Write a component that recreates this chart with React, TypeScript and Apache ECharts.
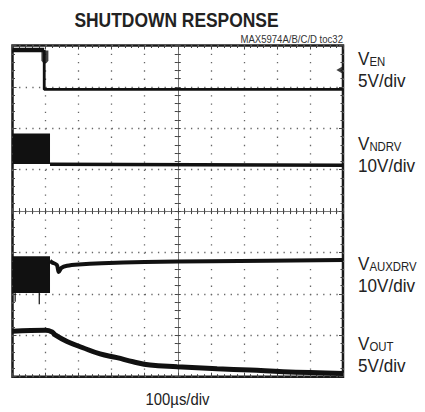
import { useEffect, useRef } from "react";
import * as echarts from "echarts";

const titleText = "SHUTDOWN RESPONSE";
const partNote = "MAX5974A/B/C/D toc32";
const timeBase = "100µs/div";
const channelMain = ["V", "V", "V", "V"];
const channelSub = ["EN", "NDRV", "AUXDRV", "OUT"];
const channelScale = ["5V/div", "10V/div", "10V/div", "5V/div"];

// x in divisions (-5..5, 100µs/div), y in divisions (-4..4)
const venHigh = [[-5, 3.89], [-4.04, 3.89]];
const venTrace = [[-4.04, 3.89], [-4.04, 2.94], [5, 2.94]];
const ndrvBurstX = [-5, -3.865];
const ndrvBurstHigh = 1.855;
const ndrvBurstLow = 1.14;
const ndrvTrace = [[-3.865, 1.13], [5, 1.11]];
const auxBurstX = [-5, -3.865];
const auxBurstHigh = -1.11;
const auxBurstLow = -1.98;
const auxSpikes = [[-4.92, -1.95, -2.19], [-4.19, -1.95, -2.25]];
const auxTrace = [
  [-3.865, -1.2], [-3.8, -1.24], [-3.66, -1.3], [-3.6, -1.47], [-3.52, -1.37],
  [-3.35, -1.32], [-3.0, -1.29], [-2.3, -1.26], [-1, -1.23], [1, -1.21], [5, -1.18],
];
const voutTrace = [
  [-5, -2.9], [-4.0, -2.88], [-3.8, -2.92], [-3.71, -2.99], [-3.35, -3.15],
  [-2.87, -3.3], [-2.35, -3.45], [-1.84, -3.54], [-1.35, -3.64], [-0.84, -3.72],
  [-0.02, -3.76], [1.19, -3.81], [2.19, -3.84], [3.19, -3.88], [5, -3.92],
];
const triggerPos = [[-4.02, 3.72]];
const triggerLevel = [[4.89, 3.41]];

const FONT = "'Liberation Sans', Arial, sans-serif";
const labelBaselines = [65, 150, 270, 350];
const scaleBaselines = [86.7, 171.7, 291.7, 371.7];

const traceColor = "#111";

function makeXAxis(kind: string) {
  const base: any = {
    type: "value", min: -5, max: 5, interval: 1,
    axisLabel: { show: false },
    splitLine: { show: false },
  };
  if (kind === "grid") {
    return {
      ...base, position: "bottom",
      axisLine: { show: true, onZero: true, lineStyle: { color: "#777", width: 1 } },
      axisTick: { show: true, inside: true, length: 3, lineStyle: { color: "#444" } },
      minorTick: { show: true, splitNumber: 5, length: 3, lineStyle: { color: "#444" } },
      splitLine: { show: true, lineStyle: { color: "#666", width: 1.3, type: [1.3, 6.98] } },
    };
  }
  if (kind === "centerOut") {
    return {
      ...base, position: "bottom",
      axisLine: { show: false, onZero: true },
      axisTick: { show: true, inside: false, length: 3, lineStyle: { color: "#444" } },
      minorTick: { show: true, splitNumber: 5, length: 3, lineStyle: { color: "#444" } },
    };
  }
  return {
    ...base, position: kind,
    axisLine: { show: false, onZero: false },
    axisTick: { show: true, inside: true, length: 4, lineStyle: { color: "#444" } },
    minorTick: { show: true, splitNumber: 5, length: 2.5, lineStyle: { color: "#444" } },
  };
}

function makeYAxis(kind: string) {
  const base: any = {
    type: "value", min: -4, max: 4, interval: 1,
    axisLabel: { show: false },
    splitLine: { show: false },
  };
  if (kind === "grid") {
    return {
      ...base, position: "left",
      axisLine: { show: true, onZero: true, lineStyle: { color: "#777", width: 1 } },
      axisTick: { show: true, inside: true, length: 3, lineStyle: { color: "#444" } },
      minorTick: { show: true, splitNumber: 5, length: 3, lineStyle: { color: "#444" } },
      splitLine: { show: true, lineStyle: { color: "#666", width: 1.3, type: [1.3, 5.31] } },
    };
  }
  if (kind === "centerOut") {
    return {
      ...base, position: "left",
      axisLine: { show: false, onZero: true },
      axisTick: { show: true, inside: false, length: 3, lineStyle: { color: "#444" } },
      minorTick: { show: true, splitNumber: 5, length: 3, lineStyle: { color: "#444" } },
    };
  }
  return {
    ...base, position: kind,
    axisLine: { show: false, onZero: false },
    axisTick: { show: true, inside: true, length: 4, lineStyle: { color: "#444" } },
    minorTick: { show: true, splitNumber: 5, length: 2.5, lineStyle: { color: "#444" } },
  };
}

function buildOption() {
  const lineBase = (data: any, width: number) => ({
    type: "line", data, showSymbol: false, symbol: "none",
    lineStyle: { color: traceColor, width },
    xAxisIndex: 0, yAxisIndex: 0, z: 5, silent: true,
  });
  const series: any[] = [
    lineBase(venHigh, 4.5),
    lineBase(venTrace, 2.8),
    {
      ...lineBase(ndrvBurstX.map((x) => [x, ndrvBurstHigh]), 1.5),
      areaStyle: { color: traceColor, opacity: 1, origin: ndrvBurstLow },
    },
    lineBase(ndrvTrace, 3.5),
    {
      ...lineBase(auxBurstX.map((x) => [x, auxBurstHigh]), 1.5),
      areaStyle: { color: traceColor, opacity: 1, origin: auxBurstLow },
    },
    ...auxSpikes.map((s) => lineBase([[s[0], s[1]], [s[0], s[2]]], 1.2)),
    { ...lineBase(auxTrace, 4), smooth: 0.3 },
    { ...lineBase(voutTrace, 5), smooth: 0.4 },
    {
      type: "scatter", data: triggerPos, xAxisIndex: 0, yAxisIndex: 0, z: 6,
      symbol: "path://M0,0 L6,0 L6,9 Q3,14 0,9 Z", symbolSize: [7, 13],
      itemStyle: { color: traceColor }, silent: true,
    },
    {
      type: "scatter", data: triggerLevel, xAxisIndex: 0, yAxisIndex: 0, z: 6,
      symbol: "triangle", symbolRotate: 90, symbolSize: [7, 6],
      itemStyle: { color: traceColor }, silent: true,
    },
  ];

  const graphics: any[] = [
    {
      type: "text", x: 176.5, y: 19.6, scaleX: 0.83,
      style: { text: titleText, font: `bold 21px ${FONT}`, fill: "#222", align: "center", verticalAlign: "middle" },
    },
    {
      type: "text", x: 343, y: 39.5, scaleX: 0.87,
      style: { text: partNote, font: `11px ${FONT}`, fill: "#333", align: "right", verticalAlign: "middle" },
    },
    {
      type: "text", x: 177.5, y: 399.2, scaleX: 0.9,
      style: { text: timeBase, font: `16.5px ${FONT}`, fill: "#222", align: "center", verticalAlign: "middle" },
    },
  ];
  channelSub.forEach((sub, i) => {
    graphics.push({
      type: "text", x: 358, y: labelBaselines[i] - 6.3, scaleX: 0.95,
      style: {
        text: `{v|${channelMain[i]}}{s|${sub}}`,
        align: "left", verticalAlign: "middle", fill: "#222",
        rich: {
          v: { fontSize: 18, fontFamily: FONT, lineHeight: 18, verticalAlign: "bottom", fill: "#222" },
          s: { fontSize: 12, fontFamily: FONT, lineHeight: 12, verticalAlign: "bottom", fill: "#222" },
        },
      },
    });
    graphics.push({
      type: "text", x: 358, y: scaleBaselines[i] - 6.3, scaleX: 0.95,
      style: { text: channelScale[i], font: `18px ${FONT}`, fill: "#222", align: "left", verticalAlign: "middle" },
    });
  });

  return {
    animation: false,
    backgroundColor: "#fff",
    grid: {
      left: 12.5, top: 45.5, width: 330.5, height: 331.2,
      show: true, borderColor: "#1a1a1a", borderWidth: 2.5, backgroundColor: "transparent",
    },
    xAxis: [makeXAxis("grid"), makeXAxis("centerOut"), makeXAxis("bottom"), makeXAxis("top")],
    yAxis: [makeYAxis("grid"), makeYAxis("centerOut"), makeYAxis("left"), makeYAxis("right")],
    series,
    graphic: graphics,
  };
}

export default function App() {
  const ref = useRef<HTMLDivElement>(null);
  useEffect(() => {
    if (!ref.current) return;
    const chart = echarts.init(ref.current, null, { renderer: "svg" });
    chart.setOption(buildOption() as any);
    return () => chart.dispose();
  }, []);
  return (
    <div
      ref={ref}
      style={{ position: "fixed", left: 0, top: 0, width: 425, height: 412, background: "#fff" }}
    />
  );
}
